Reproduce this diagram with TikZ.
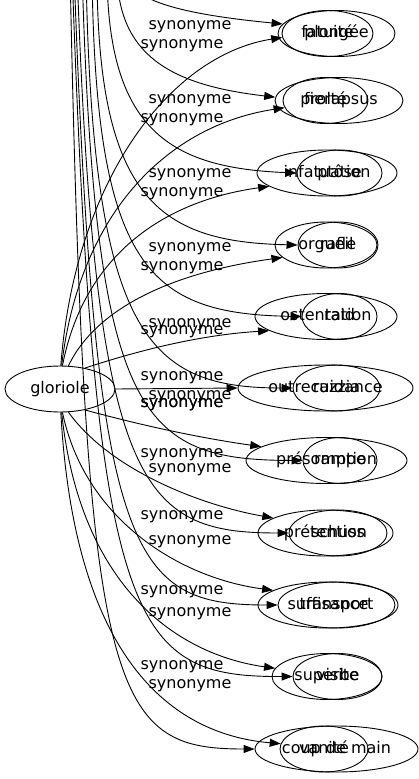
\documentclass[tikz,border=0pt]{standalone}
\usepackage{fontspec}
\setmainfont{DejaVu Sans}
\usetikzlibrary{arrows.meta,shapes.geometric}
\begin{document}
\begin{tikzpicture}[x=1pt,y=-1pt,
  every node/.style={font=\fontsize{16}{19}\selectfont},
  wnode/.style={ellipse, draw, line width=0.9pt, inner sep=0pt, minimum height=46pt, text height=12pt, text depth=4pt},
  lab/.style={inner sep=0pt},
  syn/.style={draw, line width=0.9pt, -{Triangle[length=11pt,width=8pt]}},
]
\useasboundingbox (0,0) rectangle (419,779);
\clip (0,0) rectangle (419,779);

% source node
\node[wnode, minimum width=110pt] (gl) at (60,389) {gloriole};

% targets (gloriole synonyms)
\node[wnode, minimum width=91pt]  (fatuite) at (327.5,33.5) {fatuité};
\node[wnode, minimum width=85pt]  (fierte) at (325.5,100.5) {fierté};
\node[wnode, minimum width=140pt] (infatuation) at (327,173) {infatuation};
\node[wnode, minimum width=102pt] (orgueil) at (326,245) {orgueil};
\node[wnode, minimum width=142pt] (ostentation) at (326,316.5) {ostentation};
\node[wnode, minimum width=175pt] (outrecuidance) at (325.5,388) {outrecuidance};
\node[wnode, minimum width=161pt] (presomption) at (326.5,460.5) {présomption};
\node[wnode, minimum width=135pt] (pretention) at (325.5,533) {prétention};
\node[wnode, minimum width=140pt] (suffisance) at (328,605) {suffisance};
\node[wnode, minimum width=110pt] (superbe) at (327,676.5) {superbe};
\node[wnode, minimum width=88pt]  (vanite) at (324,749) {vanité};

% targets (other source, off picture)
\node[wnode, minimum width=117pt] (plongee) at (336.5,33.5) {plongée};
\node[wnode, minimum width=128pt] (prolapsus) at (339,100.5) {prolapsus};
\node[wnode, minimum width=85pt]  (ptose) at (339.5,173) {ptôse};
\node[wnode, minimum width=80pt]  (rafle) at (338,245) {rafle};
\node[wnode, minimum width=75pt]  (raid) at (339.5,316.5) {raid};
\node[wnode, minimum width=87pt]  (razzia) at (336.5,388) {razzia};
\node[wnode, minimum width=74pt]  (rampe) at (340,460.5) {rampe};
\node[wnode, minimum width=98pt]  (schuss) at (338,533) {schuss};
\node[wnode, minimum width=117pt] (transport) at (336.5,605) {transport};
\node[wnode, minimum width=89pt]  (visite) at (337.5,676.5) {visite};
\node[wnode, minimum width=163pt] (coupdemain) at (336.5,749) {coup de main};

% free ends of the edges coming from above the picture
\coordinate (d1) at (125,-30);
\coordinate (d2) at (117,-30);
\coordinate (d3) at (107,-30);
\coordinate (d4) at (97,-30);
\coordinate (d5) at (92,-30);
\coordinate (d6) at (86,-30);
\coordinate (d7) at (82,-30);
\coordinate (d8) at (77,-30);
\coordinate (d9) at (74,-30);
\coordinate (d10) at (72,-30);
\coordinate (d11) at (70,-30);

% edges from gloriole
\draw[syn] (gl.88) .. controls (75,180) and (170,55) .. (fatuite.185);
\draw[syn] (gl.86) .. controls (80,210) and (170,125) .. (fierte.190);
\draw[syn] (gl.84) .. controls (85,250) and (170,200) .. (infatuation.193);
\draw[syn] (gl.70) .. controls (100,300) and (190,270) .. (orgueil.196);
\draw[syn] (gl.40) .. controls (140,350) and (200,335) .. (ostentation.194);
\draw[syn] (gl.east) -- (outrecuidance.west);
\draw[syn] (gl.-40) .. controls (140,425) and (200,438) .. (presomption.168);
\draw[syn] (gl.-70) .. controls (110,470) and (200,505) .. (pretention.164);
\draw[syn] (gl.-84) .. controls (85,520) and (180,578) .. (suffisance.165);
\draw[syn] (gl.-86) .. controls (80,590) and (180,655) .. (superbe.171);
\draw[syn] (gl.-88) .. controls (75,670) and (180,735) .. (vanite.173);

% edges from above
\draw[syn] (d1) .. controls (125,0) and (180,14) .. (plongee.170);
\draw[syn] (d2) .. controls (117,55) and (170,85) .. (prolapsus.177);
\draw[syn] (d3) .. controls (107,130) and (170,168) .. (ptose.west);
\draw[syn] (d4) .. controls (97,200) and (160,242) .. (rafle.west);
\draw[syn] (d5) .. controls (95,270) and (150,314) .. (raid.west);
\draw[syn] (d6) .. controls (92,340) and (150,388) .. (razzia.west);
\draw[syn] (d7) .. controls (95,420) and (140,460) .. (rampe.west);
\draw[syn] (d8) .. controls (95,490) and (140,533) .. (schuss.west);
\draw[syn] (d9) .. controls (95,560) and (130,605) .. (transport.west);
\draw[syn] (d10) .. controls (95,630) and (130,677) .. (visite.west);
\draw[syn] (d11) .. controls (85,700) and (110,749) .. (coupdemain.west);

% labels
\node[lab] (l1) at (190,27) {synonyme};
\node[lab] (l2) at (182,46) {synonyme};
\node[lab] (l3) at (190,101) {synonyme};
\node[lab] (l4) at (182,120) {synonyme};
\node[lab] (l5) at (190,175) {synonyme};
\node[lab] (l6) at (182,194) {synonyme};
\node[lab] (l7) at (190,249) {synonyme};
\node[lab] (l8) at (182,268) {synonyme};
\node[lab] (l9) at (190,325) {synonyme};
\node[lab] (l10) at (182,332) {synonyme};
\node[lab] (l11) at (182,378) {synonyme};
\node[lab] (l12) at (190,397) {synonyme};
\node[lab] (l13) at (182,405) {synonyme};
\node[lab] (l14) at (182,405) {synonyme};
\node[lab] (l15) at (182,455) {synonyme};
\node[lab] (l16) at (190,470) {synonyme};
\node[lab] (l17) at (182,517) {synonyme};
\node[lab] (l18) at (190,542) {synonyme};
\node[lab] (l19) at (182,592) {synonyme};
\node[lab] (l20) at (190,614) {synonyme};
\node[lab] (l21) at (182,667) {synonyme};
\node[lab] (l22) at (190,686) {synonyme};
\end{tikzpicture}
\end{document}
